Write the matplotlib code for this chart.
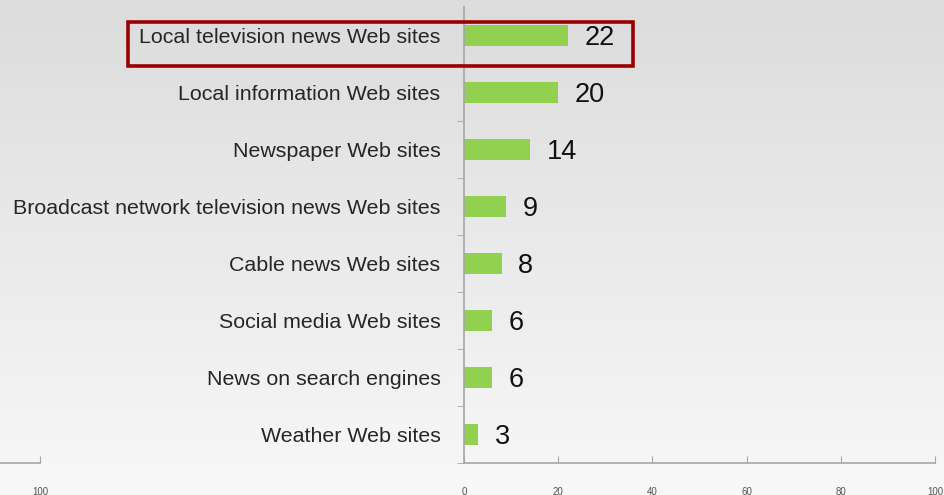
import numpy as np
import matplotlib
matplotlib.use("Agg")
import matplotlib.pyplot as plt
from matplotlib.patches import Rectangle
from matplotlib.colors import LinearSegmentedColormap

plt.rcParams['font.family'] = ['Liberation Sans', 'DejaVu Sans']

categories = [
    "Local television news Web sites",
    "Local information Web sites",
    "Newspaper Web sites",
    "Broadcast network television news Web sites",
    "Cable news Web sites",
    "Social media Web sites",
    "News on search engines",
    "Weather Web sites",
]
values = [22, 20, 14, 9, 8, 6, 6, 3]
x_ticks = [0, 20, 40, 60, 80, 100]

W, H = 944, 495
fig = plt.figure(figsize=(W / 100, H / 100), dpi=100)

# gradient background
bg = fig.add_axes([0, 0, 1, 1])
grad = np.linspace(0, 1, 256).reshape(-1, 1)
cmap = LinearSegmentedColormap.from_list("bg", ["#dcdcdc", "#f8f8f8"])
bg.imshow(grad, aspect="auto", cmap=cmap, extent=[0, 1, 0, 1])
bg.set_axis_off()

axis_col = "#a6a6a6"

# main chart: x=0 at px 464, x=100 at px 935; y from px 7 to 463
ax = fig.add_axes([464 / W, (H - 463) / H, 471 / W, 456 / H])
ax.patch.set_alpha(0)
y = np.arange(len(categories))
ax.barh(y, values, height=0.38, color="#92d050", edgecolor="none")
ax.set_xlim(0, 100)
ax.set_ylim(len(categories) - 0.5, -0.5)
for yi, v in zip(y, values):
    ax.annotate(str(v), (v, yi), xytext=(12, -1.5), textcoords="offset points",
                ha="left", va="center", fontsize=19.5, color="#111111")

ax.set_yticks(y)
ax.set_yticklabels(categories, fontsize=15.4, color="#262626")
ax.set_yticks(np.arange(0.5, len(categories), 1), minor=True)
ax.tick_params(axis="y", which="major", length=0, pad=17)
ax.tick_params(axis="y", which="minor", length=5, color=axis_col, direction="out")
ax.set_xticks(x_ticks)
ax.set_xticklabels([str(t) for t in x_ticks], fontsize=7, color="#555555")
ax.tick_params(axis="x", length=5, color=axis_col, direction="in", pad=17)
for s in ["top", "right"]:
    ax.spines[s].set_visible(False)
for s in ["left", "bottom"]:
    ax.spines[s].set_color(axis_col)
    ax.spines[s].set_linewidth(1.2)

# remnant of the left-hand axis
ax2 = fig.add_axes([0, (H - 463) / H, 40 / W, 456 / H])
ax2.patch.set_alpha(0)
ax2.set_xlim(0, 100)
ax2.set_yticks([])
ax2.set_xticks([100])
ax2.set_xticklabels(["100"], fontsize=7, color="#555555")
ax2.tick_params(axis="x", length=5, color=axis_col, direction="in", pad=17)
for s in ["top", "right", "left"]:
    ax2.spines[s].set_visible(False)
ax2.spines["bottom"].set_color(axis_col)
ax2.spines["bottom"].set_linewidth(1.2)

# highlight box around the first row
fig.patches.append(Rectangle((128 / W, (H - 66) / H), 505 / W, 44 / H,
                             transform=fig.transFigure, fill=False,
                             edgecolor="#990000", linewidth=2.6, zorder=10))

fig.savefig("out.png", dpi=100)
